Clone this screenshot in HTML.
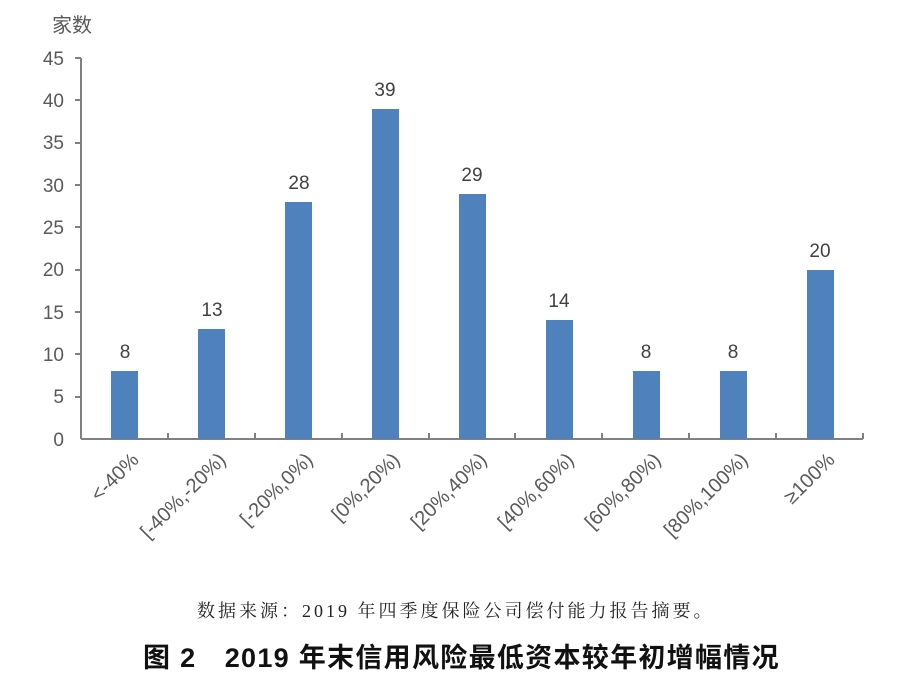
<!DOCTYPE html>
<html><head><meta charset="utf-8"><style>
body{margin:0;background:#fff;}
</style></head><body>
<svg width="906" height="690" xmlns="http://www.w3.org/2000/svg" style="display:block">
<g font-family="Liberation Sans, Noto Sans CJK SC, sans-serif" fill="#595959" font-size="19">
<text x="52" y="32" font-size="20">家数</text>
<g text-anchor="end">
<text x="64" y="65">45</text><text x="64" y="107">40</text><text x="64" y="149">35</text>
<text x="64" y="192">30</text><text x="64" y="234">25</text><text x="64" y="276">20</text>
<text x="64" y="319">15</text><text x="64" y="361">10</text><text x="64" y="403">5</text>
<text x="64" y="446">0</text>
</g>
</g>
<g stroke="#808080" stroke-width="2" fill="none">
<line x1="81" y1="58" x2="81" y2="439"/>
<line x1="81" y1="439" x2="863" y2="439"/>
<line x1="75" y1="58" x2="81" y2="58"/><line x1="75" y1="100" x2="81" y2="100"/><line x1="75" y1="143" x2="81" y2="143"/>
<line x1="75" y1="185" x2="81" y2="185"/><line x1="75" y1="227" x2="81" y2="227"/><line x1="75" y1="270" x2="81" y2="270"/>
<line x1="75" y1="312" x2="81" y2="312"/><line x1="75" y1="354" x2="81" y2="354"/><line x1="75" y1="397" x2="81" y2="397"/>
<line x1="168" y1="433" x2="168" y2="439"/><line x1="255" y1="433" x2="255" y2="439"/><line x1="342" y1="433" x2="342" y2="439"/>
<line x1="429" y1="433" x2="429" y2="439"/><line x1="515" y1="433" x2="515" y2="439"/><line x1="602" y1="433" x2="602" y2="439"/>
<line x1="689" y1="433" x2="689" y2="439"/><line x1="776" y1="433" x2="776" y2="439"/><line x1="863" y1="433" x2="863" y2="439"/>
</g>
<g fill="#4f81bd">
<rect x="111" y="371" width="27" height="68"/>
<rect x="198" y="329" width="27" height="110"/>
<rect x="285" y="202" width="27" height="237"/>
<rect x="372" y="109" width="27" height="330"/>
<rect x="459" y="194" width="27" height="245"/>
<rect x="546" y="320" width="27" height="119"/>
<rect x="633" y="371" width="27" height="68"/>
<rect x="720" y="371" width="27" height="68"/>
<rect x="807" y="270" width="27" height="169"/>
</g>
<g font-family="Liberation Sans, sans-serif" fill="#404040" font-size="19" text-anchor="middle">
<text x="125" y="358">8</text><text x="212" y="316">13</text><text x="299" y="189">28</text>
<text x="385" y="96">39</text><text x="472" y="181">29</text><text x="559" y="307">14</text>
<text x="646" y="358">8</text><text x="733" y="358">8</text><text x="820" y="257">20</text>
</g>
<g font-family="Liberation Sans, sans-serif" fill="#595959" font-size="20" text-anchor="end">
<text transform="translate(140,461) rotate(-45)">&lt;-40%</text>
<text transform="translate(227,461) rotate(-45)">[-40%,-20%)</text>
<text transform="translate(314,461) rotate(-45)">[-20%,0%)</text>
<text transform="translate(401,461) rotate(-45)">[0%,20%)</text>
<text transform="translate(488,461) rotate(-45)">[20%,40%)</text>
<text transform="translate(575,461) rotate(-45)">[40%,60%)</text>
<text transform="translate(662,461) rotate(-45)">[60%,80%)</text>
<text transform="translate(749,461) rotate(-45)">[80%,100%)</text>
<text transform="translate(836,461) rotate(-45)">≥100%</text>
</g>
<text x="197" y="617" font-family="Liberation Serif, Noto Serif CJK SC, serif" font-size="18" letter-spacing="3" fill="#222">数据来源：2019 年四季度保险公司偿付能力报告摘要。</text>
<text x="143" y="667" font-family="Liberation Sans, Noto Sans CJK SC, sans-serif" font-size="27" font-weight="bold" letter-spacing="1.3" fill="#111">图 2　2019 年末信用风险最低资本较年初增幅情况</text>
</svg>
</body></html>
